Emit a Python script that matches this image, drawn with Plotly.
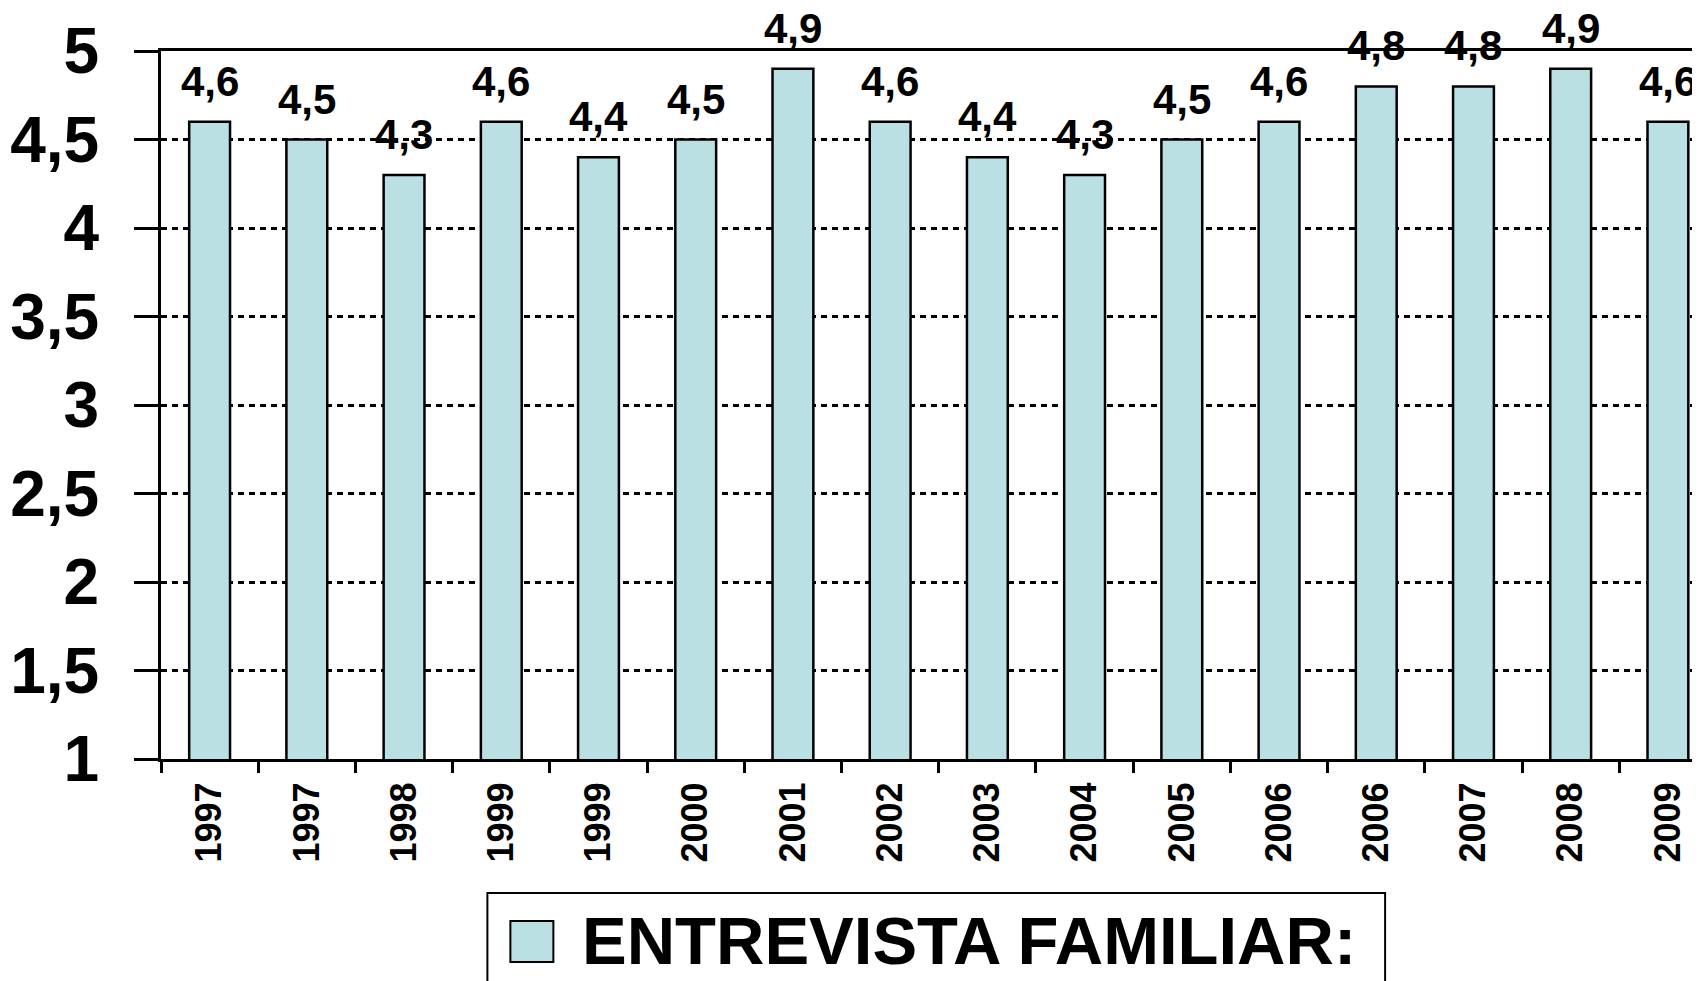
import plotly.graph_objects as go

# datos
anos = ["1997", "1997", "1998", "1999", "1999", "2000", "2001", "2002",
        "2003", "2004", "2005", "2006", "2006", "2007", "2008", "2009"]
valores = [4.6, 4.5, 4.3, 4.6, 4.4, 4.5, 4.9, 4.6,
           4.4, 4.3, 4.5, 4.6, 4.8, 4.8, 4.9, 4.6]
serie = "ENTREVISTA FAMILIAR:"
y_ticks = [1, 1.5, 2, 2.5, 3, 3.5, 4, 4.5, 5]

FONT = "Liberation Sans, Arial, sans-serif"
BAR_COLOR = "#BBE0E3"

# la pagina tiene un margen de 8px en el body
OFF = 8
W, H = 1700, 981
L, R, T, B = 160.5 - OFF, OFF, 51 - OFF, H - (759 - OFF)
pw, ph = W - L - R, H - T - B


def px_x(p):
    return (p - OFF - L) / pw


def px_y(p):
    return (H - B - (p - OFF)) / ph


pos = list(range(len(anos)))

fig = go.Figure()
fig.add_trace(go.Bar(
    x=pos, y=valores, name=serie, width=0.42,
    marker=dict(color=BAR_COLOR, line=dict(color="black", width=2.5)),
    showlegend=False,
))

# etiquetas de valores
for i, v in zip(pos, valores):
    fig.add_annotation(
        x=i, y=v, text=f"{v:.1f}".replace(".", ","),
        showarrow=False, yanchor="bottom", yshift=16, borderpad=0,
        font=dict(family=FONT, size=42, color="black", weight="bold"),
    )

# leyenda dibujada a mano (caja, cuadro de color y texto)
fig.add_shape(type="rect", xref="paper", yref="paper",
              x0=px_x(487), x1=px_x(1385), y0=px_y(893), y1=px_y(1010),
              line=dict(color="black", width=2), fillcolor="white", layer="above")
fig.add_shape(type="rect", xref="paper", yref="paper",
              x0=px_x(510), x1=px_x(553), y0=px_y(921), y1=px_y(962),
              line=dict(color="black", width=2), fillcolor=BAR_COLOR, layer="above")
fig.add_annotation(
    xref="paper", yref="paper", x=px_x(580), y=px_y(940),
    xanchor="left", yanchor="middle", text=serie, showarrow=False,
    font=dict(family=FONT, size=67, color="black", weight="bold"),
)

fig.update_layout(
    width=W, height=H,
    margin=dict(l=L, r=R, t=T, b=B, pad=0),
    paper_bgcolor="white", plot_bgcolor="white",
    separators=",.",
)

fig.update_xaxes(
    automargin=False,
    range=[-0.5, 15.33],
    tickmode="array", tickvals=pos, ticktext=anos,
    tickangle=-90, ticks="",
    tickfont=dict(family=FONT, size=36, color="black", weight="bold"),
    ticklabelstandoff=6,
    minor=dict(tickvals=[p - 0.5 for p in pos], ticks="outside",
               ticklen=11, tickwidth=2.5, tickcolor="black"),
    showline=True, linecolor="black", linewidth=3, mirror=True,
    showgrid=False, zeroline=False,
)

fig.update_yaxes(
    automargin=False,
    range=[1, 5],
    tickmode="array", tickvals=y_ticks,
    ticktext=[f"{t:g}".replace(".", ",") for t in y_ticks],
    ticks="outside", ticklen=24, tickwidth=2.5, tickcolor="black",
    tickfont=dict(family=FONT, size=64, color="black", weight="bold"),
    ticklabelstandoff=22,
    showline=True, linecolor="black", linewidth=3,
    showgrid=True, gridcolor="black", gridwidth=2.5, griddash="6px,5px",
    zeroline=False,
)

fig.write_html("out.html")
